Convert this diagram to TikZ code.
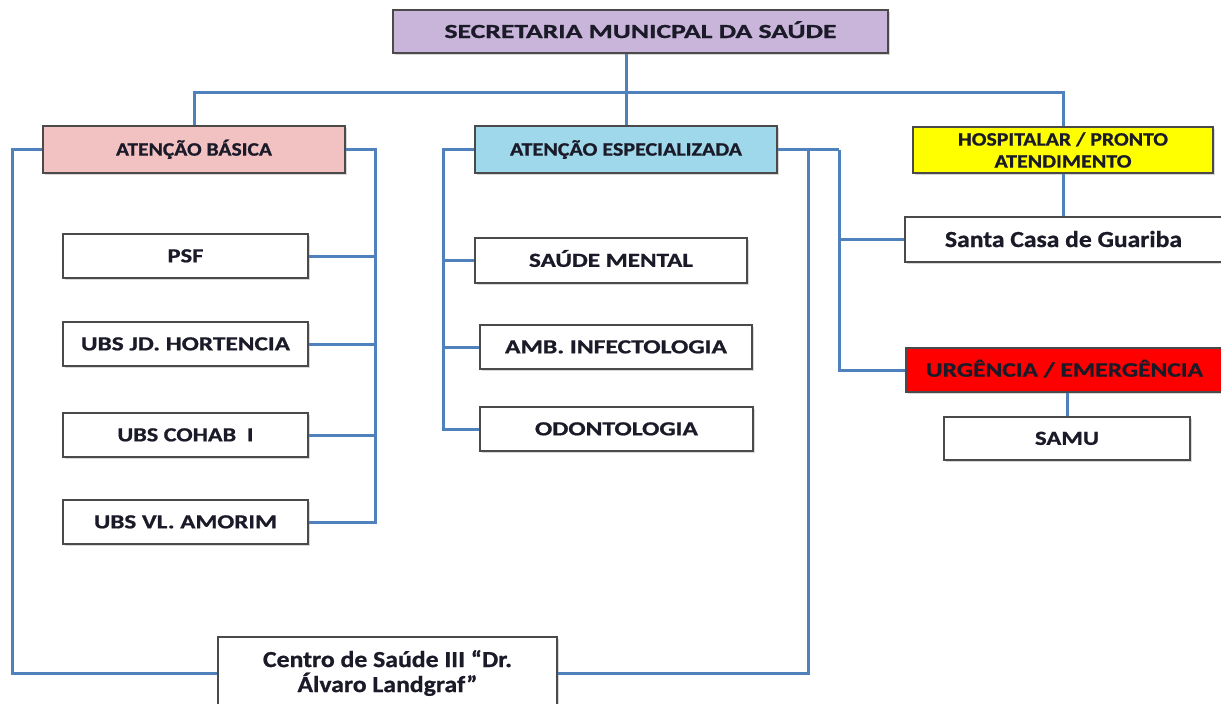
\documentclass[tikz,border=0pt]{standalone}
\usepackage{fontspec}
\setmainfont{Carlito}[BoldFeatures={FakeBold=0.8}]
\usepackage{graphicx}
\usetikzlibrary{shadows}
\definecolor{ln}{HTML}{4F81BD}
\definecolor{boxedge}{HTML}{4A4A4A}
\definecolor{txt}{HTML}{1A1A28}
\definecolor{cTitle}{HTML}{C9B5DA}
\definecolor{cPink}{HTML}{F2C2C2}
\definecolor{cCyan}{HTML}{9ED8EA}
\definecolor{cYellow}{HTML}{FFFF00}
\definecolor{cRed}{HTML}{FF0000}
\newcommand{\tw}[3]{{\fontsize{#2}{#2}\selectfont\resizebox{#1}{\height}{#3}}}
\begin{document}
\begin{tikzpicture}[x=1pt,y=-1pt,
  box/.style={draw=boxedge, line width=2.2pt, fill=white, inner sep=0pt, text=txt, font=\bfseries,
    drop shadow={shadow xshift=1.5pt, shadow yshift=-1.5pt, opacity=0.3}},
  capsbox/.style={box, text height=#1, text depth=0pt},
  conn/.style={draw=ln, line width=3pt}]
\fill[white] (0,0) rectangle (1221,704);
\useasboundingbox (0,0) rectangle (1221,704);
\clip (0,0) rectangle (1221,704);

% nodes
\node[capsbox=13pt, fill=cTitle, minimum width=495pt, minimum height=43pt] (sec) at (640.5,31.5) {\tw{392pt}{20}{SECRETARIA MUNICPAL DA SAÚDE}};
\node[capsbox=12.3pt, fill=cPink, minimum width=302pt, minimum height=47pt] (bas) at (194,149.5) {\tw{156pt}{19}{ATENÇÃO BÁSICA}};
\node[capsbox=12.3pt, fill=cCyan, minimum width=302pt, minimum height=47pt] (esp) at (626,149.5) {\tw{232pt}{19}{ATENÇÃO ESPECIALIZADA}};
\node[box, fill=cYellow, minimum width=300pt, minimum height=46pt, align=center, font=\bfseries\fontsize{19}{22}\selectfont] (hos) at (1063,150) {\tw{210pt}{19}{HOSPITALAR / PRONTO}\\\tw{137pt}{19}{ATENDIMENTO}};

\node[capsbox=12.7pt, minimum width=245pt, minimum height=44pt] (psf) at (185.5,256) {\tw{36pt}{20}{PSF}};
\node[capsbox=12.7pt, minimum width=245pt, minimum height=44pt] (jd) at (185.5,344) {\tw{209pt}{20}{UBS JD. HORTENCIA}};
\node[capsbox=12.7pt, minimum width=245pt, minimum height=44pt] (cohab) at (185.5,435) {\tw{136pt}{20}{UBS COHAB\ \ I}};
\node[capsbox=12.7pt, minimum width=245pt, minimum height=44pt] (vl) at (185.5,522) {\tw{183pt}{20}{UBS VL. AMORIM}};

\node[capsbox=12.7pt, minimum width=272pt, minimum height=45pt] (sm) at (611,260.5) {\tw{164pt}{20}{SAÚDE MENTAL}};
\node[capsbox=12.7pt, minimum width=272pt, minimum height=44pt] (amb) at (616,347) {\tw{222pt}{20}{AMB. INFECTOLOGIA}};
\node[capsbox=12.7pt, minimum width=273pt, minimum height=44pt] (odo) at (616.5,429) {\tw{163pt}{20}{ODONTOLOGIA}};

\node[capsbox=15pt, minimum width=317pt, minimum height=45pt] (sc) at (1063.5,239.5) {\tw{237pt}{23}{Santa Casa de Guariba}};
\node[capsbox=13.3pt, fill=cRed, minimum width=317pt, minimum height=44pt] (urg) at (1064.5,370) {\tw{277pt}{20.5}{URGÊNCIA / EMERGÊNCIA}};
\node[capsbox=12.7pt, minimum width=246pt, minimum height=43pt] (samu) at (1067,438.5) {\tw{64pt}{20}{SAMU}};

\node[box, minimum width=339pt, minimum height=72pt, align=center, font=\bfseries\fontsize{23}{25}\selectfont] (cs) at (387.5,673) {\tw{249pt}{23}{Centro de Saúde III “Dr.}\\\tw{180pt}{23}{Álvaro Landgraf”}};

% bus coordinates
\coordinate (busL) at (193,92);
\coordinate (L) at (12,0);
\coordinate (B) at (375,0);
\coordinate (E) at (443,0);
\coordinate (R1) at (808,0);
\coordinate (R2) at (839,0);

% connectors
\draw[conn] (esp.north |- sec.south) -- (esp.north);
\draw[conn] (bas.north) -- (bas.north |- busL) -- (hos.north |- busL) -- (hos.north);

\draw[conn] (bas.west) -- (bas.west -| L) -- (cs.west -| L) -- (cs.west);
\draw[conn] (bas.east) -- (bas.east -| B) |- (vl.east);
\draw[conn] (psf.east) -- (psf.east -| B);
\draw[conn] (jd.east) -- (jd.east -| B);
\draw[conn] (cohab.east) -- (cohab.east -| B);

\draw[conn] (esp.west) -- (esp.west -| E) |- (odo.west);
\draw[conn] (sm.west) -- (sm.west -| E);
\draw[conn] (amb.west) -- (amb.west -| E);

\draw[conn] (esp.east) -- (esp.east -| R2);
\draw[conn] (cs.east) -- (cs.east -| R1) -- (esp.east -| R1);
\draw[conn] (esp.east -| R2) |- (urg.west);
\draw[conn] (sc.west) -- (sc.west -| R2);

\draw[conn] (hos.south) -- (hos.south |- sc.north);
\draw[conn] (urg.south -| samu.north) -- (samu.north);
\end{tikzpicture}
\end{document}
